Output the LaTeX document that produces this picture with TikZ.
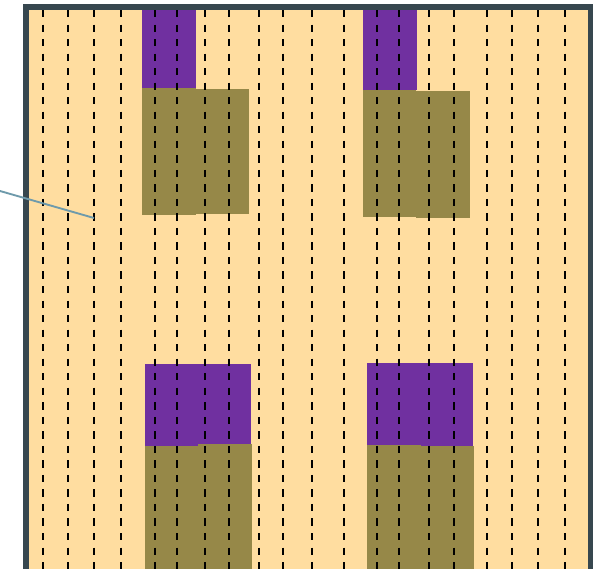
\documentclass[tikz,border=0pt]{standalone}
\usepackage{tikz}

\definecolor{wallgrey}{HTML}{37474F}
\definecolor{floorsand}{HTML}{FFDDA0}
\definecolor{blockpurple}{HTML}{7030A0}
\definecolor{blockolive}{HTML}{968848}
\definecolor{leadteal}{HTML}{6E9AAB}

\begin{document}
\begin{tikzpicture}[x=0.03cm, y=-0.03cm, line cap=butt, line join=miter,
    gridline/.style={black, line width=1.7pt, dash pattern=on 6.2pt off 6.2pt},
    upper/.style={fill=blockpurple},
    lower/.style={fill=blockolive}]
  \useasboundingbox (0,0) rectangle (595,569);

  \coordinate (TL) at (26,7);
  \coordinate (TR) at (590.5,7);
  \coordinate (BL) at (26,569);
  \coordinate (BR) at (590.5,569);

  \fill[floorsand] (TL) rectangle (BR);

  % first row of blocks
  \fill[upper] (142,7) rectangle (196,88);
  \fill[lower] (142,88) rectangle (196,215);
  \fill[lower] (196,89) rectangle (249,214);

  \fill[upper] (363,7) rectangle (417,90);
  \fill[lower] (363,90) rectangle (416,217);
  \fill[lower] (416,91) rectangle (470,218);

  % second row of blocks
  \fill[upper] (145,364) rectangle (198,446);
  \fill[upper] (198,364) rectangle (251,444);
  \fill[lower] (145,446) rectangle (198,569);
  \fill[lower] (198,444) rectangle (252,569);

  \fill[upper] (367,363) rectangle (421,445);
  \fill[upper] (421,363) rectangle (473,446);
  \fill[lower] (367,445) rectangle (421,569);
  \fill[lower] (421,446) rectangle (474,569);

  \foreach \x in {43,68,94,121,155,177,205,229,259,283,312,344,377,399,429,454,487,512,538,565}
    \draw[gridline] (\x,10) -- (\x,569);

  \draw[wallgrey, line width=5pt] (BL)--(TL)--(TR)--(BR);

  \coordinate (lead) at (0,191);
  \coordinate (tip) at (94,218);
  \draw[leadteal, line width=1.6pt] (lead)--(tip);
\end{tikzpicture}
\end{document}
